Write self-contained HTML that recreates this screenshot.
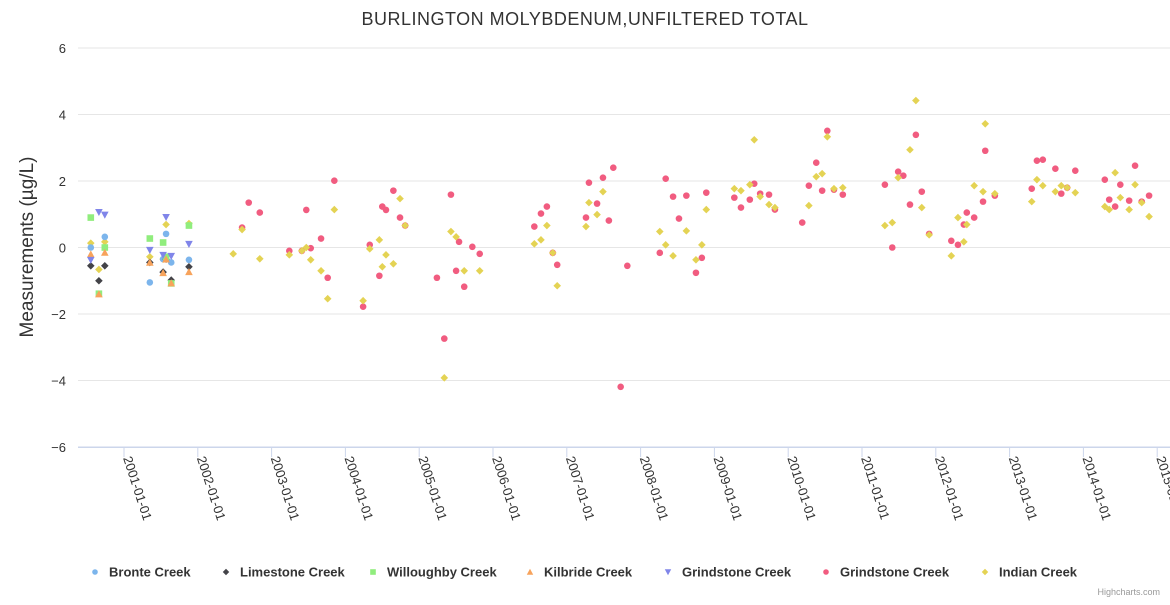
<!DOCTYPE html>
<html><head><meta charset="utf-8">
<style>
body{margin:0;background:#fff;font-family:"Liberation Sans",sans-serif;}
svg text{font-family:"Liberation Sans",sans-serif;}
</style></head>
<body>
<svg id="chart" width="1170" height="600" xmlns="http://www.w3.org/2000/svg">
<rect width="1170" height="600" fill="#fff"/>
<text x="585" y="25" text-anchor="middle" font-size="18" fill="#333" letter-spacing="0.5">BURLINGTON MOLYBDENUM,UNFILTERED TOTAL</text>
<text transform="translate(33,247) rotate(-90)" text-anchor="middle" font-size="19" fill="#333">Measurements (µg/L)</text>
<g id="grid"></g><g id="axes"></g><g id="marks"></g><g id="legend"></g>
<text x="1160" y="595" text-anchor="end" font-size="9" fill="#999">Highcharts.com</text>
</svg>
<script>
const yTicks=[-6,-4,-2,0,2,4,6];
const xTickLabels=["2001-01-01","2002-01-01","2003-01-01","2004-01-01","2005-01-01","2006-01-01","2007-01-01","2008-01-01","2009-01-01","2010-01-01","2011-01-01","2012-01-01","2013-01-01","2014-01-01","2015-01-01"];
const xTickYears=[2001,2002,2003,2004,2005,2006,2007,2008,2009,2010,2011,2012,2013,2014,2015];
const seriesNames=["Bronte Creek","Limestone Creek","Willoughby Creek","Kilbride Creek","Grindstone Creek","Grindstone Creek","Indian Creek"];
const earlyDates=[2000.55,2000.66,2000.74,2001.35,2001.53,2001.57,2001.64,2001.88];
const bronteVals=[0.0,null,0.32,-1.05,-0.35,0.41,-0.45,-0.37];
const limestoneVals=[-0.55,-1.0,-0.55,-0.45,-0.74,-0.35,-0.98,-0.58];
const willoughbyVals=[0.9,-1.39,0.0,0.27,0.15,-0.28,-1.08,0.66];
const kilbrideVals=[-0.2,-1.4,-0.15,-0.45,-0.76,-0.35,-1.07,-0.73];
const grindTriVals=[-0.38,1.06,0.98,-0.08,-0.23,0.91,-0.26,0.1];
const indianEarlyVals=[0.13,-0.66,0.17,-0.28,-0.35,0.69,null,0.72];
const grindDates=[2002.60,2002.69,2002.84,2003.24,2003.41,2003.47,2003.53,2003.67,2003.76,2003.85,2004.24,2004.33,2004.46,2004.50,2004.55,2004.65,2004.74,2004.81,2005.24,2005.34,2005.43,2005.50,2005.54,2005.61,2005.72,2005.82,2006.56,2006.65,2006.73,2006.81,2006.87,2007.26,2007.30,2007.41,2007.49,2007.57,2007.63,2007.73,2007.82,2008.26,2008.34,2008.44,2008.52,2008.62,2008.75,2008.83,2008.89,2009.27,2009.36,2009.48,2009.54,2009.62,2009.74,2009.82,2010.19,2010.28,2010.38,2010.46,2010.53,2010.62,2010.74,2011.31,2011.41,2011.49,2011.56,2011.65,2011.73,2011.81,2011.91,2012.21,2012.30,2012.38,2012.42,2012.52,2012.64,2012.67,2012.80,2013.30,2013.37,2013.45,2013.62,2013.70,2013.78,2013.89,2014.29,2014.35,2014.43,2014.50,2014.62,2014.70,2014.79,2014.89];
const grindVals=[0.6,1.35,1.05,-0.1,-0.1,1.13,-0.02,0.27,-0.91,2.01,-1.78,0.08,-0.85,1.23,1.13,1.71,0.9,0.66,-0.91,-2.74,1.59,-0.7,0.17,-1.18,0.02,-0.19,0.63,1.02,1.23,-0.16,-0.52,0.9,1.95,1.32,2.1,0.81,2.4,-4.19,-0.55,-0.16,2.07,1.53,0.87,1.56,-0.76,-0.31,1.65,1.5,1.2,1.44,1.92,1.62,1.59,1.14,0.75,1.86,2.55,1.71,3.51,1.74,1.59,1.89,0.0,2.28,2.16,1.29,3.39,1.68,0.41,0.2,0.08,0.69,1.05,0.9,1.38,2.91,1.56,1.77,2.61,2.64,2.37,1.62,1.8,2.31,2.04,1.44,1.23,1.89,1.41,2.46,1.38,1.56];
const indianDates=[2002.48,2002.60,2002.84,2003.24,2003.41,2003.47,2003.53,2003.67,2003.76,2003.85,2004.24,2004.33,2004.46,2004.50,2004.55,2004.65,2004.74,2004.81,2005.34,2005.43,2005.50,2005.61,2005.82,2006.56,2006.65,2006.73,2006.81,2006.87,2007.26,2007.30,2007.41,2007.49,2008.26,2008.34,2008.44,2008.62,2008.75,2008.83,2008.89,2009.27,2009.36,2009.48,2009.54,2009.62,2009.74,2009.82,2010.28,2010.38,2010.46,2010.53,2010.62,2010.74,2011.31,2011.41,2011.49,2011.65,2011.73,2011.81,2011.91,2012.21,2012.30,2012.38,2012.42,2012.52,2012.64,2012.67,2012.80,2013.30,2013.37,2013.45,2013.62,2013.70,2013.78,2013.89,2014.29,2014.35,2014.43,2014.50,2014.62,2014.70,2014.79,2014.89];
const indianVals=[-0.19,0.54,-0.34,-0.22,-0.1,0.0,-0.37,-0.7,-1.54,1.14,-1.6,-0.04,0.23,-0.58,-0.22,-0.49,1.47,0.66,-3.92,0.48,0.32,-0.7,-0.7,0.11,0.23,0.66,-0.16,-1.15,0.63,1.35,0.99,1.68,0.48,0.08,-0.25,0.5,-0.37,0.08,1.14,1.77,1.71,1.89,3.24,1.53,1.29,1.2,1.26,2.13,2.22,3.33,1.77,1.8,0.66,0.75,2.1,2.94,4.42,1.2,0.38,-0.25,0.9,0.17,0.69,1.86,1.68,3.72,1.62,1.38,2.04,1.86,1.68,1.86,1.8,1.65,1.23,1.14,2.25,1.5,1.14,1.89,1.35,0.93];
const colors=["#7cb5ec","#434348","#90ed7d","#f7a35c","#8085e9","#f15c80","#e4d354"];
const shapes=["circle","diamond","square","triangle","triangle-down","circle","diamond"];

const NS="http://www.w3.org/2000/svg";
const plotL=78,plotR=1170,plotT=48,plotB=447;
function xs(yr){return 124+(yr-2001)*73.8;}
function ys(v){return plotB-(v+6)/12*(plotB-plotT);}
function mk(tag,attrs,parent){const e=document.createElementNS(NS,tag);for(const k in attrs)e.setAttribute(k,attrs[k]);parent.appendChild(e);return e;}
function marker(shape,x,y,color,parent,s){
  s=s||1;let e;
  if(shape==="circle")e=mk("circle",{cx:x,cy:y,r:3.3*s,fill:color},parent);
  else if(shape==="square")e=mk("rect",{x:x-3.3*s,y:y-3.3*s,width:6.6*s,height:6.6*s,fill:color},parent);
  else if(shape==="diamond")e=mk("path",{d:`M${x},${y-3.8*s}L${x+3.8*s},${y}L${x},${y+3.8*s}L${x-3.8*s},${y}Z`,fill:color},parent);
  else if(shape==="triangle")e=mk("path",{d:`M${x},${y-3.8*s}L${x+3.8*s},${y+3.3*s}L${x-3.8*s},${y+3.3*s}Z`,fill:color},parent);
  else e=mk("path",{d:`M${x},${y+3.8*s}L${x+3.8*s},${y-3.3*s}L${x-3.8*s},${y-3.3*s}Z`,fill:color},parent);
  return e;
}
const grid=document.getElementById("grid"),axes=document.getElementById("axes"),marks=document.getElementById("marks"),legend=document.getElementById("legend");
yTicks.forEach(t=>{
  const l=mk("line",{x1:plotL,x2:plotR,y1:ys(t),y2:ys(t),stroke:t===-6?"#ccd6eb":"#e6e6e6","stroke-width":1},grid);
  
  
  const tx=mk("text",{x:66,y:ys(t)+5,"text-anchor":"end","font-size":13,fill:"#333"},axes);
  tx.textContent=String(t).replace("-","\u2212");
  
  
});
xTickYears.forEach((yr,i)=>{
  const x=xs(yr);
  const tk=mk("line",{x1:x,x2:x,y1:plotB,y2:plotB+10,stroke:"#ccd6eb"},axes);
  
  
  const tx=mk("text",{transform:`translate(${x-1},${plotB+11}) rotate(72)`,"font-size":13,fill:"#333"},axes);
  tx.textContent=xTickLabels[i];
  
  
});
const axisLine=mk("line",{x1:plotL,x2:plotR,y1:plotB+0.5,y2:plotB+0.5,stroke:"#ccd6eb"},axes);


const allSeries=[[earlyDates,bronteVals],[earlyDates,limestoneVals],[earlyDates,willoughbyVals],[earlyDates,kilbrideVals],[earlyDates,grindTriVals],[grindDates,grindVals],[indianDates,indianVals]];
const early=[[earlyDates,indianEarlyVals,6]];
function drawSeries(d,v,si){
  const g=mk("g",{},marks);
  
  
  d.forEach((yr,i)=>{if(v[i]==null)return;
    const m=marker(shapes[si],xs(yr),ys(v[i]),colors[si],g);
    
    
  });
}
early.forEach(s=>drawSeries(s[0],s[1],s[2]));
allSeries.forEach((s,si)=>drawSeries(s[0],s[1],si));
const legX=[95,226,373,530,668,826,985];
seriesNames.forEach((n,i)=>{
  const g=mk("g",{},legend);
  
  
  marker(shapes[i],legX[i],572,colors[i],g,0.85);
  const t=mk("text",{x:legX[i]+14,y:576.5,"font-size":13,"font-weight":"bold",fill:"#333"},g);
  t.textContent=n;
});
</script>
</body></html>
